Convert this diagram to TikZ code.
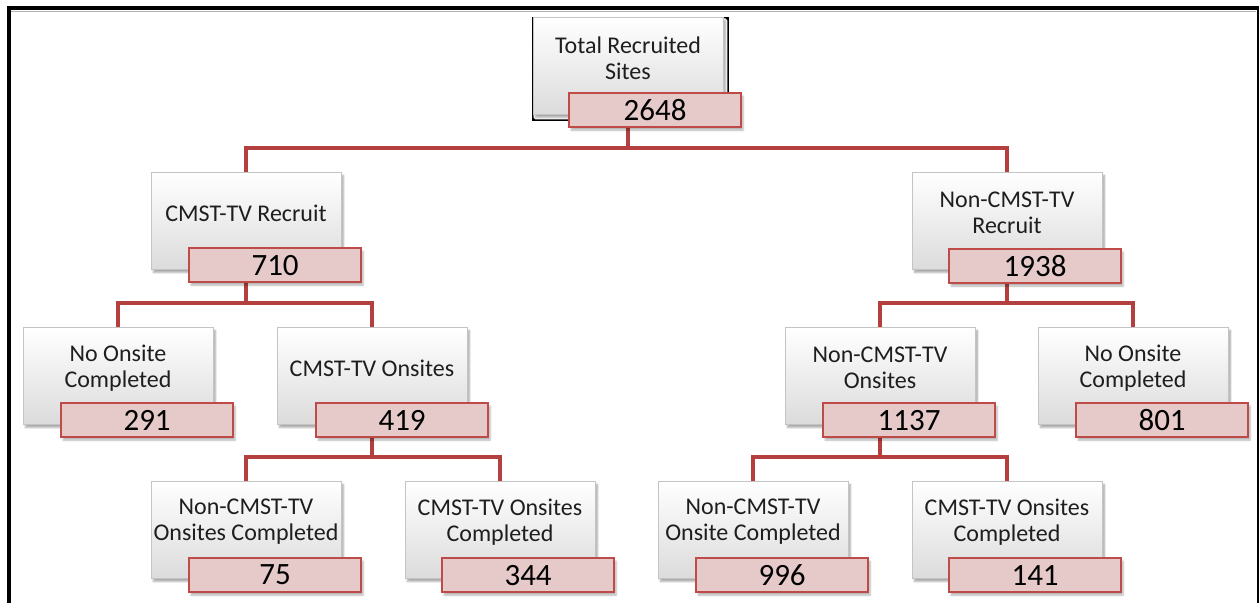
\documentclass[tikz,border=0pt]{standalone}
\usepackage{fontspec}
\setmainfont{Carlito}
\usetikzlibrary{shadows.blur}
\pgfdeclarelayer{bottom}
\pgfdeclarelayer{background}
\pgfsetlayers{bottom,background,main}
\definecolor{conncol}{HTML}{B3403E}
\definecolor{redborder}{HTML}{BE4B48}
\definecolor{redfill}{HTML}{E6CACA}
\definecolor{greyborder}{HTML}{C4C4C4}
\definecolor{txt}{HTML}{1E1E1E}
\begin{document}
\begin{tikzpicture}[x=1pt,y=-1pt,
  greybox/.style={draw=greyborder, line width=0.8pt, top color=white, bottom color=black!14,
    minimum width=190pt, minimum height=97pt, anchor=north west, inner sep=0pt,
    blur shadow={shadow xshift=2pt, shadow yshift=-3pt, shadow blur steps=6, shadow opacity=35}},
  redbox/.style={draw=redborder, line width=2.2pt, fill=redfill,
    minimum width=172pt, minimum height=34pt, anchor=north west, inner sep=0pt,
    font=\fontsize{31}{32}\selectfont, text=black,
    blur shadow={shadow xshift=2pt, shadow yshift=-3pt, shadow blur steps=5, shadow opacity=30}},
  lbl/.style={align=center, font=\fontsize{24}{26}\selectfont, text=txt, inner sep=0pt},
  conn/.style={draw=conncol, line width=4pt}]
\useasboundingbox (0,0) rectangle (1260,603);
\begin{pgfonlayer}{bottom}
\fill[white] (0,0) rectangle (1260,603);
\end{pgfonlayer}
% frame
\draw[black!30, line width=1pt] (11,11) -- (1256,11);
\draw[black, line width=4pt] (7,8) -- (1259,8);
\draw[black, line width=4pt] (9,6) -- (9,603);
\draw[black, line width=2pt] (1258,6) -- (1258,603);

% level 0
\node[greybox] (g0) at (533,17) {};
\node[redbox] (r0) at (568,92) {2648};
\node[lbl] (t0) at (628,58) {Total Recruited\\Sites};

% level 1
\node[greybox] (g1) at (151,172) {};
\node[redbox] (r1) at (188,247) {710};
\node[lbl] (t1) at (246,213) {CMST-TV Recruit};

\node[greybox] (g2) at (912,172) {};
\node[redbox] (r2) at (948,248) {1938};
\node[lbl] (t2) at (1007,213) {Non-CMST-TV\\Recruit};

% level 2
\node[greybox] (g3) at (23,327) {};
\node[redbox] (r3) at (60,402) {291};
\node[lbl] (t3) at (118,368) {No Onsite\\Completed};

\node[greybox] (g4) at (277,327) {};
\node[redbox] (r4) at (315,402) {419};
\node[lbl] (t4) at (372,368) {CMST-TV Onsites};

\node[greybox] (g5) at (785,327) {};
\node[redbox] (r5) at (822,402) {1137};
\node[lbl] (t5) at (880,368) {Non-CMST-TV\\Onsites};

\node[greybox] (g6) at (1038,327) {};
\node[redbox] (r6) at (1075,402) {801};
\node[lbl] (t6) at (1133,368) {No Onsite\\Completed};

% level 3
\node[greybox] (g7) at (151,481) {};
\node[redbox] (r7) at (188,557) {75};
\node[lbl] (t7) at (246,522) {Non-CMST-TV\\Onsites Completed};

\node[greybox] (g8) at (405,481) {};
\node[redbox] (r8) at (441,557) {344};
\node[lbl] (t8) at (500,522) {CMST-TV Onsites\\Completed};

\node[greybox] (g9) at (658,481) {};
\node[redbox] (r9) at (695,557) {996};
\node[lbl] (t9) at (753,522) {Non-CMST-TV\\Onsite Completed};

\node[greybox] (g10) at (912,481) {};
\node[redbox] (r10) at (948,557) {141};
\node[lbl] (t10) at (1007,522) {CMST-TV Onsites\\Completed};

% bus coordinates
\coordinate (b0) at (0,148);
\coordinate (b1) at (0,303);
\coordinate (b2) at (0,457);

\begin{pgfonlayer}{background}
\draw[conn] (g0.north |- r0.south) -- (g0.north |- b0);
\draw[conn] (g1.north) |- (g2.north |- b0) -- (g2.north);
\draw[conn] (g1.north |- r1.south) -- (g1.north |- b1);
\draw[conn] (g3.north) |- (g4.north |- b1) -- (g4.north);
\draw[conn] (g2.north |- r2.south) -- (g2.north |- b1);
\draw[conn] (g5.north) |- (g6.north |- b1) -- (g6.north);
\draw[conn] (g4.north |- r4.south) -- (g4.north |- b2);
\draw[conn] (g7.north) |- (g8.north |- b2) -- (g8.north);
\draw[conn] (g5.north |- r5.south) -- (g5.north |- b2);
\draw[conn] (g9.north) |- (g10.north |- b2) -- (g10.north);
\end{pgfonlayer}
\end{tikzpicture}
\end{document}
